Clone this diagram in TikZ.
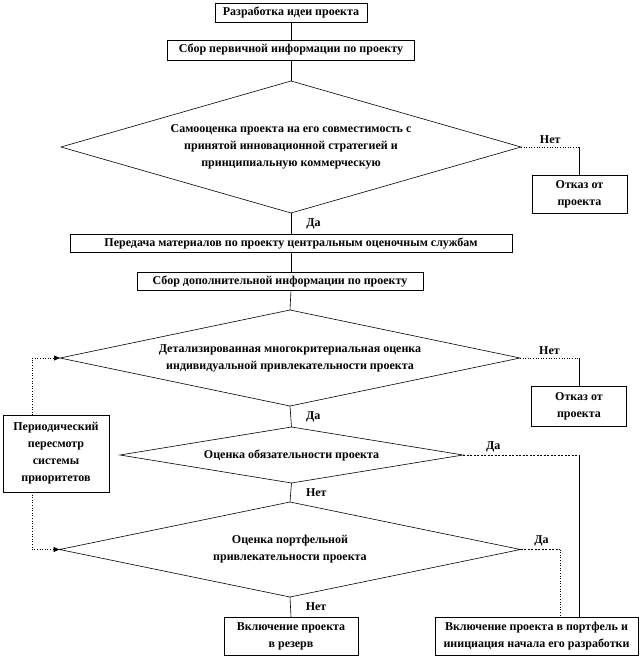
\documentclass[tikz,border=0pt]{standalone}
\usepackage{fontspec}
\setmainfont{Liberation Serif}
\usetikzlibrary{shapes.geometric,arrows.meta,calc}

\newcommand{\shrift}{\fontsize{12}{17}\selectfont\bfseries}

\tikzset{
  blok/.style={rectangle, draw, line width=0.6pt, inner sep=0pt, outer sep=0pt, align=center, font=\shrift},
  romb/.style={diamond, draw, line width=0.6pt, inner sep=0pt, outer sep=0pt, align=center, font=\shrift},
  svyaz/.style={draw, line width=0.6pt},
  punktir/.style={draw, line width=0.6pt, dotted},
  shtrih/.style={draw, line width=0.6pt, dash pattern=on 2pt off 1.5pt},
  metka/.style={font=\shrift, inner sep=1pt},
  strelka/.style={-{Triangle[length=6pt,width=5pt]}}
}

\begin{document}
\begin{tikzpicture}[x=1pt,y=-1pt]
\useasboundingbox (0,0) rectangle (640,658);

% основная цепочка
\node[blok, minimum width=152pt, minimum height=19pt] (ideya) at (291,12.5) {Разработка идеи проекта};
\node[blok, minimum width=247pt, minimum height=20pt] (sbor1) at (291,50) {Сбор первичной информации по проекту};
\node[romb, aspect=3.5, minimum width=460pt, minimum height=132pt] (samo) at (291,147) {Самооценка проекта на его совместимость с\\принятой инновационной стратегией и\\принципиальную коммерческую};
\node[blok, minimum width=95pt, minimum height=38pt] (otkaz1) at (579.5,194) {Отказ от\\проекта};
\node[blok, minimum width=442pt, minimum height=18pt] (peredacha) at (291,243) {Передача материалов по проекту центральным оценочным службам};
\node[blok, minimum width=286pt, minimum height=18pt] (sbor2) at (280,281) {Сбор дополнительной информации по проекту};
\node[romb, aspect=4.8, minimum width=460pt, minimum height=96pt] (detal) at (290,358) {Детализированная многокритериальная оценка\\индивидуальной привлекательности проекта};
\node[blok, minimum width=95pt, minimum height=40pt] (otkaz2) at (579,406) {Отказ от\\проекта};
\node[romb, aspect=6.1, minimum width=343pt, minimum height=56pt] (obyaz) at (291.5,455) {Оценка обязательности проекта};
\node[romb, aspect=4.85, minimum width=461pt, minimum height=95pt] (portf) at (290,549.5) {Оценка портфельной\\привлекательности проекта};
\node[blok, minimum width=134pt, minimum height=38pt] (rezerv) at (291,636) {Включение проекта\\в резерв};
\node[blok, minimum width=203pt, minimum height=38pt] (vklyuch) at (536.5,636) {Включение проекта в портфель и\\инициация начала его разработки};
\node[blok, minimum width=106pt, minimum height=77pt] (peresmotr) at (56,453.5) {Периодический\\пересмотр\\системы\\приоритетов};

% углы
\coordinate (ugol1) at (otkaz1.north |- samo.east);
\coordinate (ugol2) at (otkaz2.north |- detal.east);
\coordinate (ugol3) at (ugol1 |- obyaz.east);
\coordinate (ugol4) at (560,549.5);

% связи
\draw[svyaz] (ideya.south) -- (sbor1.north);
\draw[svyaz] (sbor1.south) -- (samo.north);
\draw[svyaz] (samo.south) -- node[metka, right, xshift=14pt]{Да} (peredacha.north);
\draw[punktir] (samo.east) -- node[metka, above, yshift=2pt]{Нет} (ugol1);
\draw[svyaz] (ugol1) -- (otkaz1.north);
\draw[svyaz] (peredacha.south) -- (peredacha.south |- sbor2.north);
\draw[svyaz] (peredacha.south |- sbor2.south) -- (detal.north);
\draw[punktir] (detal.east) -- node[metka, above, yshift=2pt]{Нет} (ugol2);
\draw[svyaz] (ugol2) -- (otkaz2.north);
\draw[svyaz] (detal.south) -- node[metka, right, xshift=14pt]{Да} (obyaz.north);
\draw[shtrih] (obyaz.east) -- node[metka, above, pos=0.26, yshift=2pt]{Да} (ugol3);
\draw[svyaz] (ugol3) -- (ugol3 |- vklyuch.north);
\draw[svyaz] (obyaz.south) -- node[metka, right, xshift=14pt]{Нет} (portf.north);
\draw[svyaz] (portf.south) -- node[metka, right, xshift=14pt]{Нет} (rezerv.north);
\draw[shtrih] (portf.east) -- node[metka, above, pos=0.53, yshift=2pt]{Да} (ugol4);
\draw[punktir] (ugol4) -- (ugol4 |- vklyuch.north);
\draw[punktir, strelka] ([xshift=-24pt]peresmotr.north) |- (detal.west);
\draw[punktir, strelka] ([xshift=-24pt]peresmotr.south) |- (portf.west);
\end{tikzpicture}
\end{document}
